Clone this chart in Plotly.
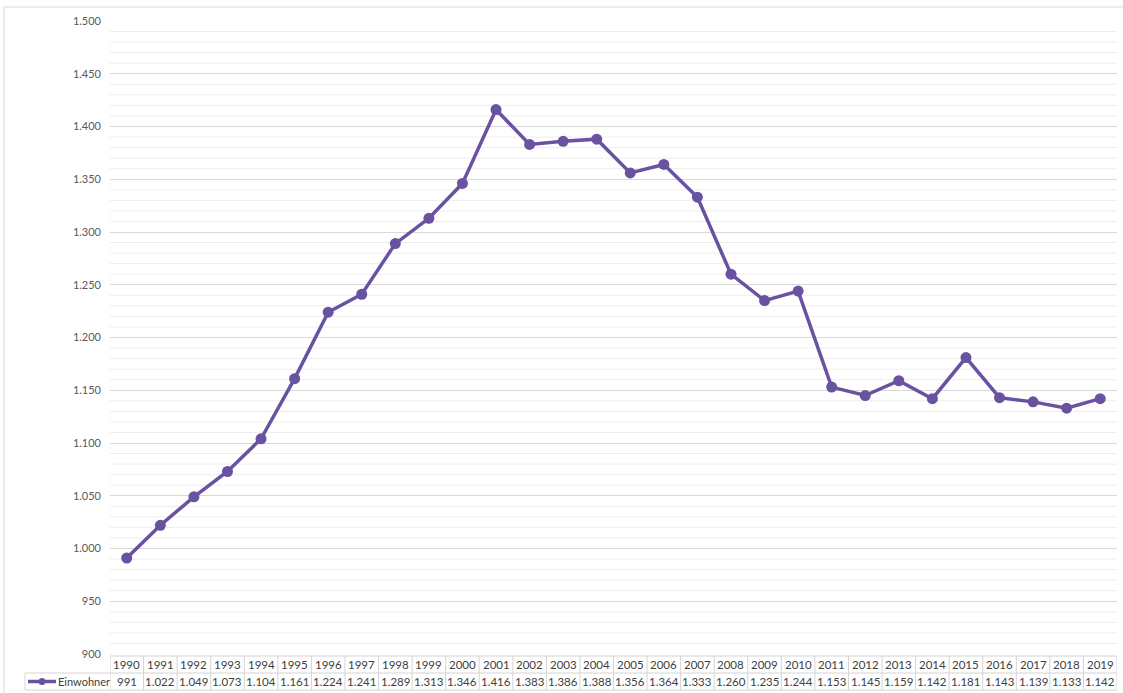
import plotly.graph_objects as go

years = [str(y) for y in range(1990, 2020)]
einwohner = [991, 1022, 1049, 1073, 1104, 1161, 1224, 1241, 1289, 1313, 1346, 1416, 1383,
             1386, 1388, 1356, 1364, 1333, 1260, 1235, 1244, 1153, 1145, 1159, 1142, 1181,
             1143, 1139, 1133, 1142]
series_name = "Einwohner"

W, H = 1123, 693
L, R, T, B = 110, 6, 21, 39
PW, PH = W - L - R, H - T - B
COLOR = "rgb(105,82,160)"
FONT = "Lato, 'Open Sans', sans-serif"
TXT = "#404040"
LINE = "#d4d4d4"

def px(x):
    return (x - L) / PW

def py(y):
    return (H - B - y) / PH

def fmt(v):
    return f"{v:,}".replace(",", ".")

fig = go.Figure()
fig.add_trace(go.Scatter(
    x=years, y=einwohner, mode="lines+markers", name=series_name,
    line=dict(color=COLOR, width=3.5),
    marker=dict(color=COLOR, size=11),
    showlegend=False, cliponaxis=False,
))

shapes = []
annotations = []
n = len(years)
y_top, y_mid, y_bot = py(656), py(673), py(690)

# minor gridlines every 10
for v in range(900, 1501, 10):
    if v % 50 != 0:
        shapes.append(dict(type="line", xref="paper", yref="y", x0=0, x1=1, y0=v, y1=v,
                           line=dict(color="#ededed", width=1), layer="below"))

# table horizontal lines
shapes.append(dict(type="line", xref="paper", yref="paper", x0=0, x1=1, y0=y_top, y1=y_top,
                   line=dict(color=LINE, width=1)))
shapes.append(dict(type="line", xref="paper", yref="paper", x0=px(25), x1=1, y0=y_mid, y1=y_mid,
                   line=dict(color=LINE, width=1)))
shapes.append(dict(type="line", xref="paper", yref="paper", x0=px(25), x1=1, y0=y_bot, y1=y_bot,
                   line=dict(color=LINE, width=1)))
# legend cell left edge
shapes.append(dict(type="line", xref="paper", yref="paper", x0=px(25), x1=px(25), y0=y_mid, y1=y_bot,
                   line=dict(color=LINE, width=1)))
# vertical column lines
for i in range(n + 1):
    shapes.append(dict(type="line", xref="x", yref="paper", x0=i - 0.5, x1=i - 0.5,
                       y0=y_top, y1=y_bot, line=dict(color=LINE, width=1)))

# table text
for i, (yr, v) in enumerate(zip(years, einwohner)):
    annotations.append(dict(x=i, y=(y_top + y_mid) / 2, xref="x", yref="paper", text=yr,
                            showarrow=False, font=dict(family=FONT, size=11.5, color=TXT),
                            xanchor="center", yanchor="middle"))
    annotations.append(dict(x=i, y=(y_mid + y_bot) / 2, xref="x", yref="paper", text=fmt(v),
                            showarrow=False, font=dict(family=FONT, size=11.5, color=TXT),
                            xanchor="center", yanchor="middle"))

# legend key in table
ly = (y_mid + y_bot) / 2
shapes.append(dict(type="line", xref="paper", yref="paper", x0=px(28), x1=px(56), y0=ly, y1=ly,
                   line=dict(color=COLOR, width=3.5)))
shapes.append(dict(type="circle", xref="paper", yref="paper", x0=px(38.5), x1=px(45.5),
                   y0=ly - 3.5 / PH, y1=ly + 3.5 / PH, fillcolor=COLOR, line=dict(width=0)))
annotations.append(dict(x=px(56), y=ly, xref="paper", yref="paper", text=series_name,
                        showarrow=False, font=dict(family=FONT, size=11, color=TXT),
                        xanchor="left", yanchor="middle"))

# outer chart border (left and top)
shapes.append(dict(type="line", xref="paper", yref="paper", x0=px(4), x1=px(4), y0=py(7), y1=py(693),
                   line=dict(color="#d9d9d9", width=1)))
shapes.append(dict(type="line", xref="paper", yref="paper", x0=px(4), x1=px(1123), y0=py(7), y1=py(7),
                   line=dict(color="#d9d9d9", width=1)))

fig.update_layout(
    width=W, height=H,
    margin=dict(l=L, r=R, t=T, b=B),
    paper_bgcolor="white", plot_bgcolor="white",
    separators=",.",
    font=dict(family=FONT, size=11, color="#595959"),
    xaxis=dict(type="category", range=[-0.5, n - 0.5], showticklabels=False, showgrid=False,
               zeroline=False, showline=False, ticks=""),
    yaxis=dict(range=[900, 1500], dtick=50, tickformat=",d", showgrid=True, gridcolor="#d9d9d9",
               gridwidth=1, zeroline=False, showline=False, ticks="", ticklabelstandoff=8,
               tickfont=dict(family=FONT, size=11, color="#595959")),
    shapes=shapes, annotations=annotations,
)

fig.write_html("out.html", config={"displayModeBar": False},
               post_script="document.body.style.margin='0';document.body.style.overflow='hidden';")
